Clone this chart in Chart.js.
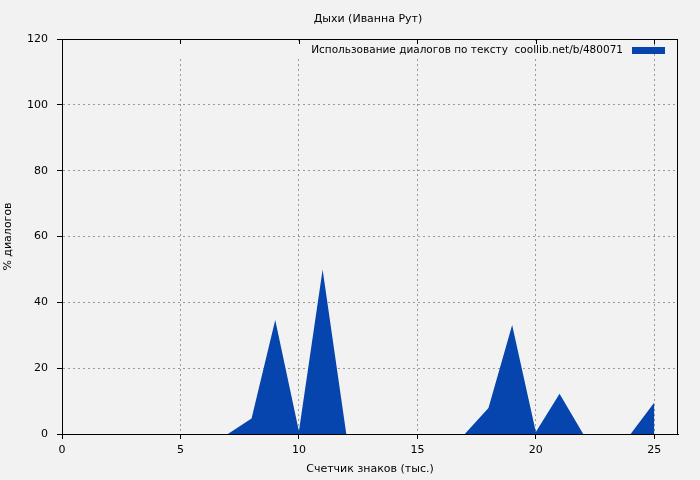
<!DOCTYPE html>
<html>
<head>
<meta charset="utf-8">
<script src="https://cdn.jsdelivr.net/npm/chart.js@4/dist/chart.umd.min.js"></script>
<style>
  body { margin: 0; background: #f2f2f2; }
  canvas { display: block; background: #f2f2f2; }
</style>
</head>
<body>
<canvas id="myChart" width="700" height="480"></canvas>
<script>
// values: thousands of chars -> % dialogs
const xValues = [0, 1, 2, 3, 4, 5, 6, 7, 8, 9, 10, 11, 12, 13, 14, 15, 16, 17, 18, 19, 20, 21, 22, 23, 24, 25];
const dialogPct = [0, 0, 0, 0, 0, 0, 0, 0, 4.7, 34.6, 0.8, 50, 0, 0, 0, 0, 0, 0, 7.9, 33.1, 0.6, 12.2, 0, 0, 0, 9.6];
const xTicks = [0, 5, 10, 15, 20, 25];
const yTicks = [0, 20, 40, 60, 80, 100, 120];

const chartTitle = 'Дыхи (Иванна Рут)';
const seriesLabel = 'Использование диалогов по тексту  coollib.net/b/480071';
const xTitle = 'Счетчик знаков (тыс.)';
const yTitle = '% диалогов';

const FONT = 'DejaVu Sans';
const BLUE = '#0645ad';
const BG = '#f2f2f2';

// gnuplot-like frame, mirror ticks, title and the key in the top-right corner
const framePlugin = {
  id: 'frame',
  beforeDatasetsDraw(chart) {
    // gnuplot leaves the grid blank along the key row
    const { ctx, chartArea: a } = chart;
    ctx.save();
    ctx.fillStyle = BG;
    ctx.fillRect(a.left + 1, a.top + 5, 640 - a.left, 13);
    ctx.restore();
  },
  afterDraw(chart) {
    const { ctx, chartArea: a, scales } = chart;
    ctx.save();
    ctx.strokeStyle = '#000';
    ctx.lineWidth = 1;
    ctx.strokeRect(a.left + 0.5, a.top + 0.5, a.right - a.left - 1, a.bottom - a.top);
    ctx.beginPath();
    xTicks.forEach((v) => {
      const x = Math.round(scales.x.getPixelForValue(v)) + 0.5;
      ctx.moveTo(x, a.top);
      ctx.lineTo(x, a.top + 5);
    });
    ctx.stroke();

    ctx.fillStyle = '#000';
    ctx.textBaseline = 'middle';
    ctx.font = '11px "' + FONT + '"';
    ctx.textAlign = 'center';
    ctx.fillText(chartTitle, 368, 19);

    ctx.font = '10.5px "' + FONT + '"';
    ctx.textAlign = 'right';
    ctx.fillText(seriesLabel, a.right - 55, a.top + 11);
    ctx.fillStyle = BLUE;
    ctx.fillRect(a.right - 46, a.top + 8, 33, 7);
    ctx.restore();
  },
};

const myChart = new Chart(document.getElementById('myChart').getContext('2d'), {
  type: 'line',
  data: {
    labels: xValues,
    datasets: [
      {
        label: seriesLabel,
        data: xValues.map((x, i) => ({ x: x, y: dialogPct[i] })),
        borderColor: BLUE,
        backgroundColor: BLUE,
        borderWidth: 0,
        pointRadius: 0,
        tension: 0,
        fill: 'origin',
      },
    ],
  },
  options: {
    responsive: false,
    animation: false,
    layout: { padding: { left: 0, right: 22, top: 39, bottom: 0 } },
    scales: {
      x: {
        type: 'linear',
        min: 0,
        max: 26,
        afterBuildTicks: (axis) => { axis.ticks = xTicks.map((v) => ({ value: v })); },
        afterFit: (axis) => { axis.height = 46; },
        grid: {
          color: (c) => (c.tick && c.tick.value > 0 ? '#999' : 'rgba(0,0,0,0)'),
          tickColor: '#000',
          tickLength: 5,
        },
        border: { display: true, color: '#000', width: 1, dash: [2, 3] },
        ticks: { color: '#000', font: { family: FONT, size: 11 }, padding: 5, maxRotation: 0 },
        title: {
          display: true,
          text: xTitle,
          color: '#000',
          font: { family: FONT, size: 11 },
          padding: { top: 0, bottom: 4 },
        },
      },
      y: {
        min: 0,
        max: 120,
        afterBuildTicks: (axis) => { axis.ticks = yTicks.map((v) => ({ value: v })); },
        afterFit: (axis) => { axis.width = 62; },
        grid: {
          color: (c) => (c.tick && c.tick.value > 0 && c.tick.value < 120 ? '#999' : 'rgba(0,0,0,0)'),
          tickColor: '#000',
          tickLength: 5,
        },
        border: { display: true, color: '#000', width: 1, dash: [2, 3] },
        ticks: { color: '#000', font: { family: FONT, size: 11 }, padding: 9 },
        title: {
          display: true,
          text: yTitle,
          color: '#000',
          font: { family: FONT, size: 11 },
          padding: { top: 2, bottom: 0 },
        },
      },
    },
    plugins: {
      legend: { display: false },
      tooltip: { enabled: false },
      title: { display: false },
    },
  },
  plugins: [framePlugin],
});
</script>
</body>
</html>
